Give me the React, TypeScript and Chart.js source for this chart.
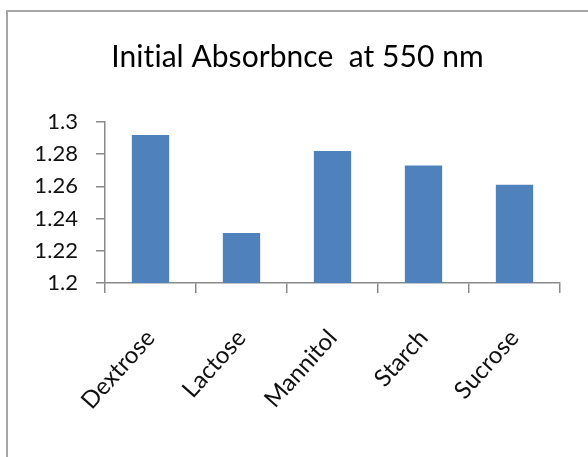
import React, { useEffect, useRef } from "react";
import { Chart, registerables } from "chart.js";

Chart.register(...registerables);

const chartTitle = "Initial Absorbnce  at 550 nm";
const categories = ["Dextrose", "Lactose", "Mannitol", "Starch", "Sucrose"];
const absorbance = [1.292, 1.231, 1.282, 1.273, 1.261];
const yTickLabels = ["1.2", "1.22", "1.24", "1.26", "1.28", "1.3"];
const yMin = 1.2;
const yMax = 1.3;
const yStep = 0.02;

const noLigatures = {
  id: "noLigatures",
  beforeDraw(chart: any) {
    try {
      chart.ctx.letterSpacing = "0.05px";
    } catch (e) {}
  },
};

export default function App() {
  const ref = useRef<HTMLCanvasElement | null>(null);

  useEffect(() => {
    if (!ref.current) return;
    const axisColor = "#8a8a8a";
    const chart = new Chart(ref.current, {
      type: "bar",
      data: {
        labels: categories,
        datasets: [
          {
            data: absorbance,
            backgroundColor: "#4F81BD",
            borderWidth: 0,
            barPercentage: 0.41,
            categoryPercentage: 1,
          },
        ],
      },
      plugins: [noLigatures],
      options: {
        animation: false,
        responsive: false,
        layout: { padding: { left: 35, right: 28, top: 0, bottom: 0 } },
        plugins: {
          legend: { display: false },
          tooltip: { enabled: false },
          title: {
            display: true,
            text: chartTitle,
            color: "#000",
            font: { family: "Lato", size: 30, weight: "normal" },
            padding: { top: 39, bottom: 47 },
          },
        },
        scales: {
          x: {
            grid: {
              display: true,
              drawOnChartArea: false,
              drawTicks: true,
              tickLength: 10,
              color: axisColor,
              lineWidth: 1.5,
            },
            border: { display: true, color: axisColor, width: 1.5 },
            ticks: {
              autoSkip: false,
              minRotation: 48,
              maxRotation: 48,
              padding: 31,
              labelOffset: 0,
              color: "#111",
              font: { family: "Lato", size: 24 },
            },
            afterFit: (scale: any) => {
              scale.height = 174;
            },
          },
          y: {
            min: yMin,
            max: yMax,
            grid: {
              display: true,
              drawOnChartArea: false,
              drawTicks: true,
              tickLength: 9,
              color: axisColor,
              lineWidth: 1.5,
            },
            border: { display: true, color: axisColor, width: 1.5 },
            ticks: {
              stepSize: yStep,
              padding: 18,
              color: "#111",
              font: { family: "Lato", size: 22 },
              callback: (_v: any, i: number) => yTickLabels[i],
            },
            afterFit: (scale: any) => {
              scale.width = 70;
            },
          },
        },
      },
    });
    return () => chart.destroy();
  }, []);

  return (
    <div
      style={{
        position: "absolute",
        left: 0,
        top: 0,
        width: 588,
        height: 457,
        background: "#fff",
        overflow: "hidden",
      }}
    >
      <div
        style={{
          position: "absolute",
          left: 6,
          top: 10,
          width: 700,
          height: 600,
          borderLeft: "2px solid #a6a6a6",
          borderTop: "2px solid #a6a6a6",
        }}
      />
      <canvas
        ref={ref}
        width={588}
        height={457}
        style={{ position: "absolute", left: 0, top: 0, width: 588, height: 457 }}
      />
    </div>
  );
}
